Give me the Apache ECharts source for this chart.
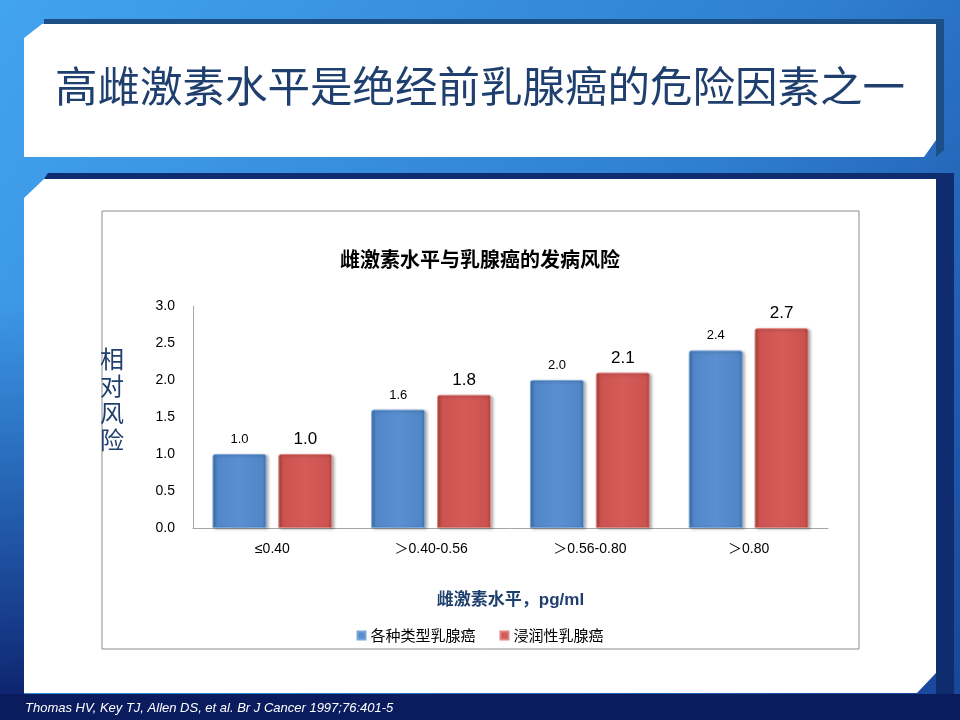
<!DOCTYPE html>
<html>
<head>
<meta charset="utf-8">
<script src="https://cdn.jsdelivr.net/npm/echarts@6/dist/echarts.min.js"></script>
<style>
  html, body { margin: 0; padding: 0; background: #1e5fa8; }
  #main { width: 960px; height: 720px; }
</style>
</head>
<body>
<div id="main"></div>
<script>
// 数据
var categories = ['≤0.40', '＞0.40-0.56', '＞0.56-0.80', '＞0.80'];
var allTypes = [1.0, 1.6, 2.0, 2.4];      // 各种类型乳腺癌
var invasive = [1.0, 1.8, 2.1, 2.7];      // 浸润性乳腺癌
var seriesNames = ['各种类型乳腺癌', '浸润性乳腺癌'];
var yTicks = [0, 0.5, 1.0, 1.5, 2.0, 2.5, 3.0];

var cjk = '"Noto Sans CJK SC", "Liberation Sans", Arial, sans-serif';
var latin = '"Liberation Sans", Arial, "Noto Sans CJK SC", sans-serif';
var navy = '#1f3f6e';

// 柱子的立体渐变
var barFill = function(dark, base, light){
    return new echarts.graphic.LinearGradient(0, 0, 1, 0, [
        { offset: 0, color: dark },
        { offset: 0.08, color: base },
        { offset: 0.5, color: light },
        { offset: 0.92, color: base },
        { offset: 1, color: dark }
    ]);
};

var chart = echarts.init(document.getElementById('main'));

var option = {
    animation: false,
    textStyle: { fontFamily: cjk },
    // 幻灯片背景
    graphic: [
        {
            type: 'rect', z: -20, silent: true,
            shape: { x: 0, y: 0, width: 960, height: 720 },
            style: {
                fill: new echarts.graphic.LinearGradient(0, 0, 1, 1, [
                    { offset: 0, color: '#42a3ee' },
                    { offset: 0.55, color: '#2f7fd0' },
                    { offset: 1, color: '#17449a' }
                ])
            }
        },
        {
            type: 'rect', z: -19, silent: true,
            shape: { x: 0, y: 694, width: 960, height: 26 },
            style: { fill: '#0b1c5e' }
        },
        {
            type: 'rect', z: -19, silent: true,
            shape: { x: 0, y: 300, width: 24, height: 394 },
            style: {
                fill: new echarts.graphic.LinearGradient(0, 0, 0, 1, [
                    { offset: 0, color: 'rgba(20,60,150,0)' },
                    { offset: 1, color: '#0e2570' }
                ])
            }
        },
        // 标题框阴影
        {
            type: 'polygon', z: -18, silent: true,
            shape: { points: [[44, 19], [944, 19], [944, 150], [936, 157], [936, 24], [44, 24]] },
            style: { fill: '#1c4f86' }
        },
        // 标题框
        {
            type: 'polygon', z: -17, silent: true,
            shape: { points: [[42, 24], [936, 24], [936, 140], [924, 157], [24, 157], [24, 38]] },
            style: { fill: '#ffffff' }
        },
        // 内容框阴影
        {
            type: 'polygon', z: -18, silent: true,
            shape: { points: [[48, 173], [954, 173], [954, 694], [936, 694], [936, 179], [44, 179]] },
            style: { fill: '#0f2d6e' }
        },
        // 内容框
        {
            type: 'polygon', z: -17, silent: true,
            shape: { points: [[44, 179], [936, 179], [936, 673], [917, 693], [24, 693], [24, 198]] },
            style: { fill: '#ffffff' }
        },
        // 图表边框
        {
            type: 'rect', z: -16, silent: true,
            shape: { x: 102, y: 211, width: 757, height: 438 },
            style: { fill: '#ffffff', stroke: '#8c8c8c', lineWidth: 1 }
        }
    ],
    title: [
        {
            text: '高雌激素水平是绝经前乳腺癌的危险因素之一',
            left: 'center',
            top: 60,
            textStyle: { fontFamily: cjk, fontSize: 42.5, fontWeight: 'normal', color: navy }
        },
        {
            text: '雌激素水平与乳腺癌的发病风险',
            left: 'center',
            top: 244,
            textStyle: { fontFamily: cjk, fontSize: 20, fontWeight: 'bold', color: '#000' }
        },
        {
            text: '相\n对\n风\n险',
            left: 95,
            top: 340,
            textStyle: { fontFamily: cjk, fontSize: 24, fontWeight: 'normal', color: navy, lineHeight: 27 }
        },
        {
            text: 'Thomas HV, Key TJ, Allen DS, et al. Br J Cancer 1997;76:401-5',
            left: 20,
            top: 697,
            textStyle: {
                fontFamily: '"Liberation Sans", Arial, sans-serif',
                fontSize: 13, fontStyle: 'italic', fontWeight: 'normal', color: '#ffffff'
            }
        }
    ],
    legend: {
        data: seriesNames,
        top: 623,
        left: 'center',
        icon: 'rect',
        itemWidth: 8,
        itemHeight: 8,
        itemGap: 24,
        textStyle: { fontFamily: cjk, fontSize: 15, color: '#000' }
    },
    grid: { left: 193, right: 132, top: 306, bottom: 192 },
    xAxis: {
        type: 'category',
        data: categories,
        axisLine: { lineStyle: { color: '#a6a6a6' } },
        axisTick: { show: false },
        axisLabel: { fontSize: 14, color: '#000', margin: 14, fontFamily: latin },
        name: '雌激素水平，pg/ml',
        nameLocation: 'middle',
        nameGap: 64,
        nameTextStyle: { fontFamily: latin, fontSize: 17, fontWeight: 'bold', color: navy }
    },
    yAxis: {
        type: 'value',
        min: yTicks[0],
        max: yTicks[yTicks.length - 1],
        interval: 0.5,
        axisLine: { show: true, lineStyle: { color: '#a6a6a6' } },
        axisTick: { show: false },
        splitLine: { show: false },
        axisLabel: {
            fontSize: 14, color: '#000', margin: 18,
            fontFamily: latin,
            formatter: function(v){ return v.toFixed(1); }
        }
    },
    series: [
        {
            name: seriesNames[0],
            type: 'bar',
            data: allTypes,
            barWidth: '34%',
            barGap: '22%',
            itemStyle: {
                color: barFill('#3f6ea8', '#5187c8', '#5a90d2'),
                borderRadius: [2, 2, 0, 0],
                borderColor: '#7aa6dc',
                borderWidth: 1,
                shadowColor: 'rgba(0,0,0,0.3)',
                shadowBlur: 3,
                shadowOffsetX: 2,
                shadowOffsetY: 1
            },
            label: {
                show: true, position: 'top', distance: 8,
                fontSize: 13, color: '#000',
                fontFamily: latin,
                formatter: function(p){ return p.value.toFixed(1); }
            }
        },
        {
            name: seriesNames[1],
            type: 'bar',
            data: invasive,
            barWidth: '34%',
            itemStyle: {
                color: barFill('#a94340', '#cc5350', '#d45b58'),
                borderRadius: [2, 2, 0, 0],
                borderColor: '#e08582',
                borderWidth: 1,
                shadowColor: 'rgba(0,0,0,0.3)',
                shadowBlur: 3,
                shadowOffsetX: 2,
                shadowOffsetY: 1
            },
            label: {
                show: true, position: 'top', distance: 6,
                fontSize: 17, color: '#000',
                fontFamily: latin,
                formatter: function(p){ return p.value.toFixed(1); }
            }
        }
    ]
};

chart.setOption(option);
</script>
</body>
</html>
